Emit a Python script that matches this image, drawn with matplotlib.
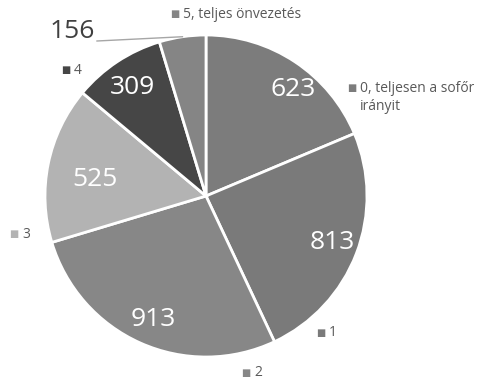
import matplotlib.pyplot as plt
import numpy as np

W, H = 486, 383

values = [623, 813, 913, 525, 309, 156]
categories = ["0, teljesen a sofőr\nirányit", "1", "2", "3", "4", "5, teljes önvezetés"]
colors = ["#7c7c7c", "#7a7a7a", "#878787", "#b3b3b3", "#464646", "#858585"]

# label positions in pixels (x, y from top)
value_pos = [(293, 90), (332, 243), (153, 320), (95, 180), (132, 88), None]
cat_pos = [(349, 88), (318, 333), (243, 373), (11, 234), (63, 70), (172, 14)]


def fx(x):
    return x / W


def fy(y):
    return 1 - y / H


fig = plt.figure(figsize=(W / 100, H / 100), dpi=100)
cx, cy, r = 206, 196, 161
ax = fig.add_axes([fx(cx - r), fy(cy + r), 2 * r / W, 2 * r / H])
ax.pie(values, colors=colors, startangle=90, counterclock=False, radius=1,
       wedgeprops=dict(edgecolor="white", linewidth=2))
ax.set_xlim(-1, 1)
ax.set_ylim(-1, 1)
ax.set_aspect("auto")
ax.axis("off")

for v, p in zip(values, value_pos):
    if p is None:
        continue
    fig.text(fx(p[0]), fy(p[1]), str(v), color="white", fontsize=19,
             ha="center", va="center", family="Open Sans")

# outside label for the small slice with leader line
fig.text(fx(72), fy(32), str(values[5]), color="#404040", fontsize=19,
         ha="center", va="center", family="Open Sans")
ang = np.deg2rad(90 + values[5] / sum(values) * 360 / 2)
ax.plot([(97 - cx) / r, np.cos(ang)], [(cy - 41) / r, np.sin(ang)],
        color="#a6a6a6", linewidth=1, clip_on=False)

for c, col, p in zip(categories, colors, cat_pos):
    lines = c.split("\n")
    fig.text(fx(p[0] - 2), fy(p[1]), "■", color=col, fontsize=7,
             ha="left", va="center", family="DejaVu Sans")
    fig.text(fx(p[0] + 11), fy(p[1]), lines[0], color="#595959", fontsize=10,
             ha="left", va="center", family="Open Sans")
    if len(lines) > 1:
        fig.text(fx(p[0] + 11), fy(p[1] + 18), lines[1], color="#595959",
                 fontsize=10, ha="left", va="center", family="Open Sans")

fig.text(fx(2), fy(389), "Kép szerkesztése", color="#404040", fontsize=9,
         ha="left", va="center", family="Open Sans")

fig.savefig("out.png", dpi=100)
